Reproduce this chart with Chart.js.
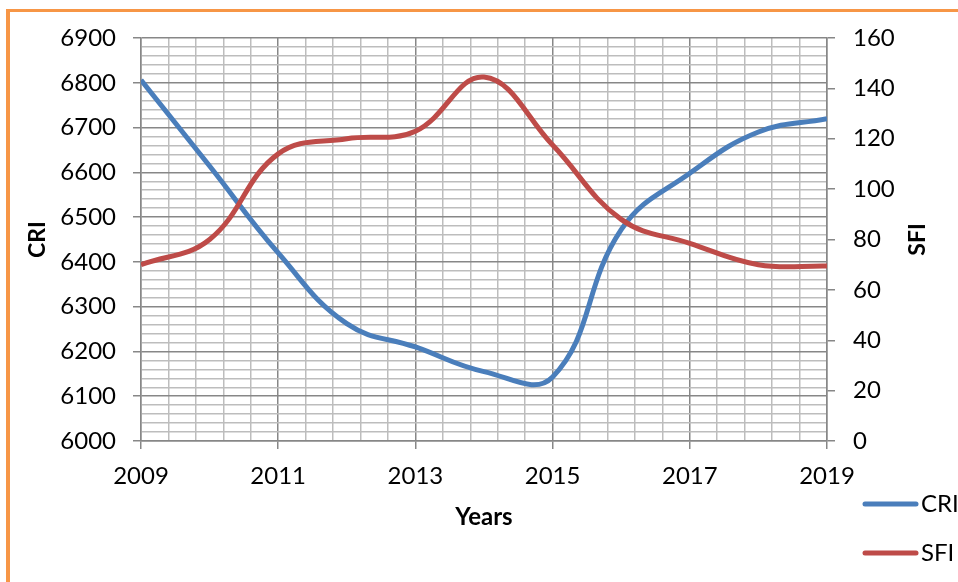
<!DOCTYPE html>
<html>
<head>
<meta charset="utf-8">
<script src="https://cdn.jsdelivr.net/npm/chart.js@4/dist/chart.umd.min.js"></script>
<style>
  html, body { margin: 0; padding: 0; background: #ffffff; }
  #wrap { position: relative; width: 958px; height: 582px; overflow: hidden; }
  #frame {
    position: absolute; left: 6px; top: 9px; right: -10px; bottom: -10px;
    border-left: 4px solid #F79646; border-top: 3px solid #F79646;
  }
  canvas { position: absolute; left: 0; top: 0; }
</style>
</head>
<body>
<div id="wrap">
  <div id="frame"></div>
  <canvas id="chart" width="958" height="582"></canvas>
</div>
<script>
// Yearly observations
const years = [2009, 2010, 2011, 2012, 2013, 2014, 2015, 2016, 2017, 2018, 2019];
const criValues = [6806, 6614, 6420, 6262, 6210, 6155, 6143, 6472, 6598, 6690, 6720];
const sfiValues = [70, 80, 114, 120, 123, 144.5, 117.5, 88, 78.5, 70, 69.5];

// Labelled ticks on each axis
const yearTickLabels = [2009, 2011, 2013, 2015, 2017, 2019];
const criTickLabels = [6000, 6100, 6200, 6300, 6400, 6500, 6600, 6700, 6800, 6900];
const sfiTickLabels = [0, 20, 40, 60, 80, 100, 120, 140, 160];

const FONT = 'Lato, "Liberation Sans", Arial, sans-serif';
const MAJOR = '#878787';
const MINOR = '#BDBDBD';

const near = (a, b) => Math.abs(a - b) < 1e-6;
const isYearMajor = v => yearTickLabels.some(t => near(t, v));
const isCriMajor = v => criTickLabels.some(t => near(t, v));

const points = vals => years.map((yr, i) => ({ x: yr, y: vals[i] }));

// Legend on the lower right and the right-hand axis title
const sideText = {
  id: 'sideText',
  afterDraw(chart) {
    const ctx = chart.ctx;
    ctx.save();
    const rows = [504, 553];
    chart.data.datasets.forEach((ds, i) => {
      const y = rows[i];
      ctx.strokeStyle = ds.borderColor;
      ctx.lineWidth = 5;
      ctx.lineCap = 'round';
      ctx.beginPath();
      ctx.moveTo(865, y);
      ctx.lineTo(916, y);
      ctx.stroke();
      ctx.fillStyle = '#000000';
      ctx.font = '24px ' + FONT;
      ctx.textAlign = 'left';
      ctx.textBaseline = 'middle';
      ctx.fillText(ds.label, 921, y);
    });
    const yScale = chart.scales.y1;
    ctx.translate(918, (yScale.top + yScale.bottom) / 2);
    ctx.rotate(-Math.PI / 2);
    ctx.font = 'bold 23px ' + FONT;
    ctx.textAlign = 'center';
    ctx.textBaseline = 'middle';
    ctx.fillText('SFI', 0, 0);
    ctx.restore();
  }
};

new Chart(document.getElementById('chart'), {
  type: 'line',
  data: {
    datasets: [
      {
        label: 'CRI', data: points(criValues), yAxisID: 'y',
        borderColor: '#4A7EBB', borderWidth: 5, pointRadius: 0,
        tension: 0.42, fill: false, order: 1
      },
      {
        label: 'SFI', data: points(sfiValues), yAxisID: 'y1',
        borderColor: '#BE4B48', borderWidth: 5, pointRadius: 0,
        tension: 0.4, fill: false, order: 0
      }
    ]
  },
  options: {
    responsive: false,
    animation: false,
    layout: { padding: { top: 38, left: 0, right: 0, bottom: 0 } },
    plugins: { legend: { display: false }, tooltip: { enabled: false } },
    scales: {
      x: {
        type: 'linear', min: 2009, max: 2019,
        afterFit: s => { s.height = 141; },
        ticks: {
          stepSize: 0.4, autoSkip: false, maxRotation: 0, padding: 13,
          color: '#000000', font: { family: FONT, size: 24 },
          callback: v => isYearMajor(v) ? String(Math.round(v)) : ''
        },
        grid: {
          color: c => isYearMajor(c.tick.value) ? MAJOR : MINOR,
          tickColor: c => isYearMajor(c.tick.value) ? MAJOR : 'rgba(0,0,0,0)',
          lineWidth: 1.5, tickLength: 8
        },
        border: { color: MAJOR, width: 1.5 },
        title: {
          display: true, text: 'Years', color: '#000000',
          font: { family: FONT, size: 24, weight: 'bold' },
          padding: { top: 0, bottom: 50 }
        }
      },
      y: {
        type: 'linear', position: 'left', min: 6000, max: 6900,
        afterFit: s => { s.width = 141; },
        ticks: {
          stepSize: 20, autoSkip: false, padding: 17,
          color: '#000000', font: { family: FONT, size: 24 },
          callback: v => isCriMajor(v) ? String(Math.round(v)) : ''
        },
        grid: {
          color: c => isCriMajor(c.tick.value) ? MAJOR : MINOR,
          tickColor: c => isCriMajor(c.tick.value) ? MAJOR : 'rgba(0,0,0,0)',
          lineWidth: 1.5, tickLength: 8
        },
        border: { color: MAJOR, width: 1.5 },
        title: {
          display: true, text: 'CRI', color: '#000000',
          font: { family: FONT, size: 23, weight: 'bold' },
          padding: { top: 24, bottom: 0 }
        }
      },
      y1: {
        type: 'linear', position: 'right', min: 0, max: 160,
        afterFit: s => { s.width = 131; },
        ticks: {
          stepSize: 20, autoSkip: false, padding: 18,
          color: '#000000', font: { family: FONT, size: 24 },
          callback: v => sfiTickLabels.includes(v) ? String(v) : ''
        },
        grid: { drawOnChartArea: false, color: MAJOR, lineWidth: 1.5, tickLength: 8 },
        border: { color: MAJOR, width: 1.5 }
      }
    }
  },
  plugins: [sideText]
});
</script>
</body>
</html>
